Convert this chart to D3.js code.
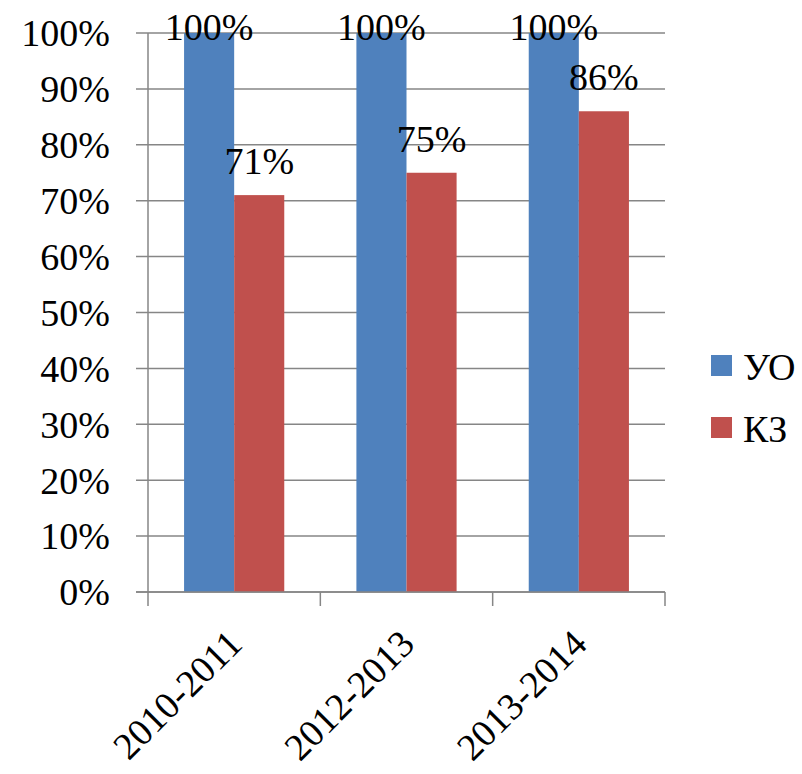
<!DOCTYPE html>
<html>
<head>
<meta charset="utf-8">
<script src="https://d3js.org/d3.v7.min.js"></script>
<style>
  body { margin: 0; background: #fff; }
  svg text { font-family: "Liberation Serif", "Noto Serif", "DejaVu Serif", "Liberation Sans", sans-serif; }
</style>
</head>
<body>
<svg id="chart" width="802" height="774"></svg>
<script>
// data
const years = ["2010-2011", "2012-2013", "2013-2014"];
const seriesNames = ["УО", "КЗ"];
const uoValues = [100, 100, 100];
const kzValues = [71, 75, 86];
const yTicks = [0, 10, 20, 30, 40, 50, 60, 70, 80, 90, 100];
const colors = ["#4F81BD", "#C0504D"];

const svg = d3.select("#chart");
const plotLeft = 148, plotRight = 665, plotTop = 33, plotBottom = 592;
const fs = 38;

const x0 = d3.scaleBand().domain(years).range([plotLeft, plotRight]).padding(0);
const x1 = d3.scaleBand().domain(seriesNames).range([0, x0.bandwidth()])
    .paddingInner(0).paddingOuter(0.72);
const y = d3.scaleLinear().domain([0, 100]).range([plotBottom, plotTop]);

// gridlines
svg.append("g").selectAll("line").data(yTicks).join("line")
    .attr("x1", plotLeft - 12).attr("x2", plotRight)
    .attr("y1", d => y(d)).attr("y2", d => y(d))
    .attr("stroke", "#868686").attr("stroke-width", 1.5);

// y axis labels
svg.append("g").selectAll("text").data(yTicks).join("text")
    .attr("x", 110).attr("y", d => y(d)).attr("dy", "0.35em")
    .attr("text-anchor", "end").attr("font-size", fs)
    .text(d => d + "%");

// y axis line
svg.append("line").attr("x1", plotLeft).attr("x2", plotLeft)
    .attr("y1", plotTop).attr("y2", plotBottom)
    .attr("stroke", "#868686").attr("stroke-width", 1.5);

// bars
const rows = years.map((yr, i) => ({ year: yr, vals: [uoValues[i], kzValues[i]] }));
const groups = svg.append("g").selectAll("g").data(rows).join("g")
    .attr("transform", d => `translate(${x0(d.year)},0)`);

groups.selectAll("rect").data(d => d.vals.map((v, j) => ({ name: seriesNames[j], v, j })))
    .join("rect")
    .attr("x", d => x1(d.name))
    .attr("width", x1.bandwidth())
    .attr("y", d => y(d.v))
    .attr("height", d => y(0) - y(d.v))
    .attr("fill", d => colors[d.j]);

// x axis line + ticks
svg.append("line").attr("x1", plotLeft - 12).attr("x2", plotRight)
    .attr("y1", plotBottom).attr("y2", plotBottom)
    .attr("stroke", "#868686").attr("stroke-width", 1.5);
const bounds = years.map(d => x0(d)).concat([plotRight]);
svg.append("g").selectAll("line").data(bounds).join("line")
    .attr("x1", d => d).attr("x2", d => d)
    .attr("y1", plotBottom).attr("y2", plotBottom + 14)
    .attr("stroke", "#868686").attr("stroke-width", 1.5);

// value labels
groups.selectAll("text").data(d => d.vals.map((v, j) => ({ name: seriesNames[j], v, j })))
    .join("text")
    .attr("x", d => x1(d.name) + x1.bandwidth() / 2)
    .attr("y", d => Math.max(y(d.v) - 21, 40))
    .attr("text-anchor", "middle").attr("font-size", fs)
    .text(d => d.v + "%");

// x labels
svg.append("g").selectAll("text").data(years).join("text")
    .attr("transform", d => `translate(${x0(d) + x0.bandwidth() / 2 + 10},${plotBottom + 54}) rotate(-45)`)
    .attr("text-anchor", "end").attr("font-size", fs)
    .text(d => d);

// legend
const legend = svg.append("g").selectAll("g").data(seriesNames).join("g")
    .attr("transform", (d, i) => `translate(711,${355 + i * 62})`);
legend.append("rect").attr("width", 21).attr("height", 21)
    .attr("fill", (d, i) => colors[i]);
legend.append("text").attr("x", 32).attr("y", 25)
    .attr("font-size", fs).text(d => d);
</script>
</body>
</html>
